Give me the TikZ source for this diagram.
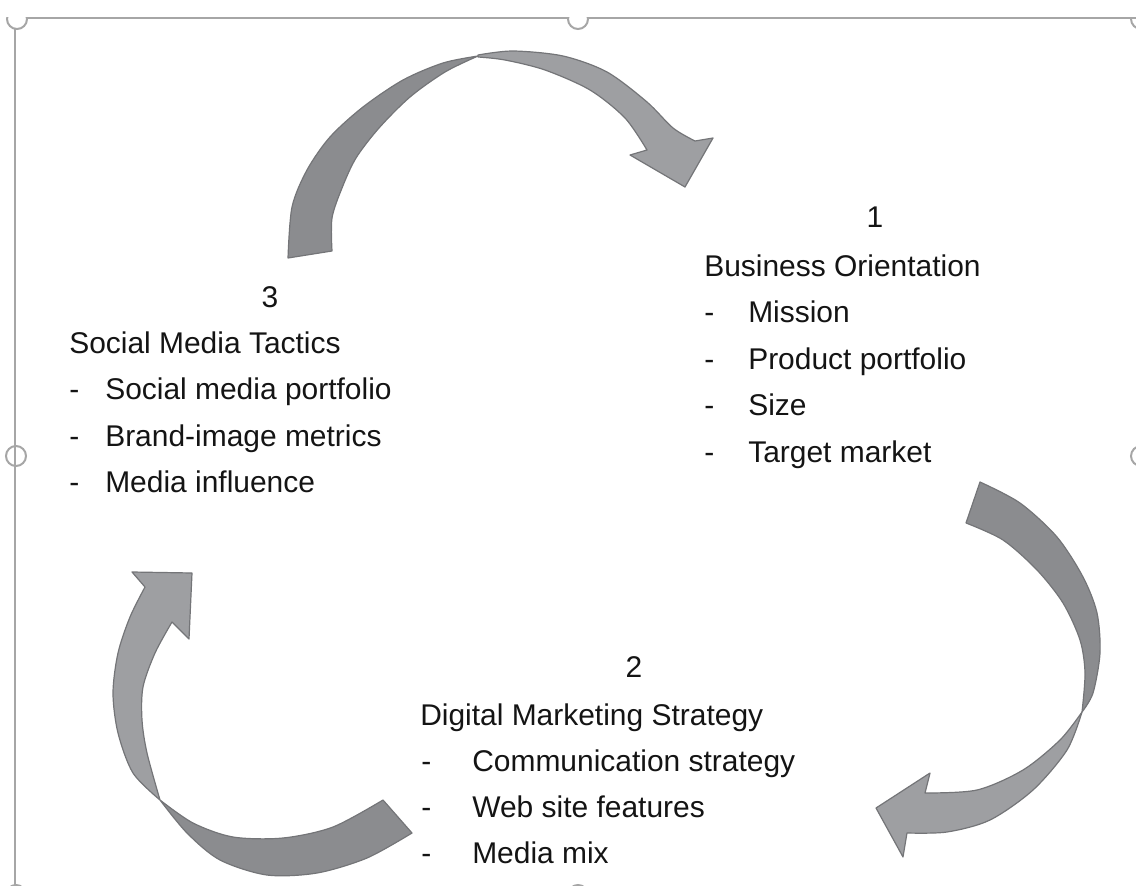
\documentclass[tikz,border=0pt]{standalone}
\usepackage{fontspec}
\setmainfont{Liberation Sans}
\usepackage{tikz}
\usetikzlibrary{positioning}

\definecolor{framegray}{RGB}{166,166,166}
\definecolor{bandDarkFill}{RGB}{139,140,143}
\definecolor{bandLightFill}{RGB}{158,159,162}
\definecolor{bandEdge}{RGB}{116,117,120}
\definecolor{textblack}{RGB}{20,20,20}

\tikzset{
  frameline/.style={draw=framegray, line width=0.05cm},
  handle/.style={draw=framegray, fill=white, line width=0.05cm},
  bandDark/.style={fill=bandDarkFill, draw=bandEdge, line width=0.03cm, line join=round},
  bandLight/.style={fill=bandLightFill, draw=bandEdge, line width=0.03cm, line join=round},
  txt/.style={inner sep=0pt, text=textblack, font=\fontsize{21.3}{25}\selectfont},
  numlabel/.style={txt, anchor=base},
  linelabel/.style={txt, anchor=base west},
}

\begin{document}
\begin{tikzpicture}[x=0.025cm, y=-0.025cm]
  \useasboundingbox (0,0) rectangle (1136,886);

  % selection frame
  \begin{scope}
    \clip (0,18) rectangle (1136,886);
    \foreach \hx/\hy in {17/19, 578/19, 1141/19, 16/456, 1141/456, 16/895, 578/895}{
      \draw[handle] (\hx,\hy) circle (10);
    }
  \end{scope}
  \draw[frameline] (15,29) -- (15,886);
  \draw[frameline] (27,18) -- (568,18);
  \draw[frameline] (588,18) -- (1136,18);

  % top arrow (3 -> 1)
  \filldraw[bandDark] plot[smooth] coordinates {(288,258) (292,207) (307,170) (330,137) (363,107) (403,80) (443,63) (478,56)}
    -- plot[smooth] coordinates {(478,56) (445,72) (410,97) (379,128) (356,158) (342,188) (332,218) (332,251)} -- cycle;
  \filldraw[bandLight] plot[smooth] coordinates {(478,55) (513,51) (563,56) (607,72) (647,102) (673,128) (695,141)}
    -- (713,138) -- (685,187) -- (630,155) -- (647,150)
    -- plot[smooth] coordinates {(647,150) (625,118) (590,90) (545,70) (505,60) (478,57)} -- cycle;

  % right arrow (1 -> 2)
  \filldraw[bandDark] plot[smooth] coordinates {(980,482) (1020,503) (1057,537) (1083,577) (1097,613) (1100,653) (1093,693) (1082,712)}
    -- plot[smooth] coordinates {(1082,712) (1085,673) (1080,640) (1063,603) (1037,570) (1003,540) (966,523)} -- cycle;
  \filldraw[bandLight] plot[smooth] coordinates {(1082,712) (1067,750) (1033,790) (990,820) (947,832) (907,833)}
    -- (903,857) -- (876,808) -- (930,773) -- (925,793)
    -- plot[smooth] coordinates {(925,793) (977,790) (1023,770) (1060,740) (1082,712)} -- cycle;

  % left arrow (2 -> 3)
  \filldraw[bandDark] plot[smooth] coordinates {(160,800) (187,833) (220,860) (267,875) (317,873) (367,858) (412,833)}
    -- plot[smooth] coordinates {(383,800) (333,827) (283,838) (233,837) (193,823) (160,800)} -- cycle;
  \filldraw[bandLight] plot[smooth] coordinates {(160,800) (147,753) (142,720) (143,687) (155,653) (172,622)}
    -- (189,639) -- (192,573) -- (132,572) -- (145,587)
    -- plot[smooth] coordinates {(145,587) (130,617) (118,653) (113,693) (118,733) (133,773) (160,800)} -- cycle;

  % block 1
  \node[numlabel] (num1) at (875,227) {1};
  \node[linelabel] (title1) at (704,276) {Business Orientation};
  \foreach \entry [count=\i] in {Mission, Product portfolio, Size, Target market}{
    \node[linelabel] (dash1-\i) at (704, {276+\i*46.5}) {-};
    \node[linelabel] (entry1-\i) at (748, {276+\i*46.5}) {\entry};
  }

  % block 2
  \node[numlabel] (num2) at (634,677) {2};
  \node[linelabel] (title2) at (420,725) {Digital Marketing Strategy};
  \foreach \entry [count=\i] in {Communication strategy, Web site features, Media mix}{
    \node[linelabel] (dash2-\i) at (421, {725+\i*46}) {-};
    \node[linelabel] (entry2-\i) at (472, {725+\i*46}) {\entry};
  }

  % block 3
  \node[numlabel] (num3) at (270,307) {3};
  \node[linelabel] (title3) at (69,353) {Social Media Tactics};
  \foreach \entry [count=\i] in {Social media portfolio, Brand-image metrics, Media influence}{
    \node[linelabel] (dash3-\i) at (69, {353+\i*46.5}) {-};
    \node[linelabel] (entry3-\i) at (105, {353+\i*46.5}) {\entry};
  }
\end{tikzpicture}
\end{document}
